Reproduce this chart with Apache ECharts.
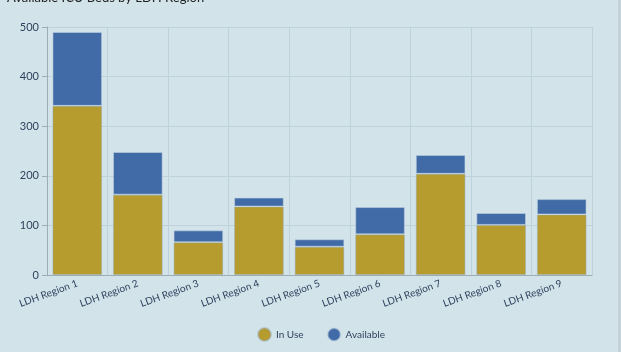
<!DOCTYPE html>
<html>
<head>
<meta charset="utf-8">
<script src="https://cdn.jsdelivr.net/npm/echarts@6/dist/echarts.min.js"></script>
<style>
  html, body { margin:0; padding:0; background:#d2e4ea; }
  #chart { width:621px; height:352px; }
  #edge { position:absolute; left:618px; top:0; width:3px; height:352px; background:#c3d2d8; }
</style>
</head>
<body>
<div id="chart"></div>
<div id="edge"></div>
<script>
// ICU beds per LDH region
var regions = ['LDH Region 1','LDH Region 2','LDH Region 3','LDH Region 4','LDH Region 5','LDH Region 6','LDH Region 7','LDH Region 8','LDH Region 9'];
var inUse = [341, 162, 66, 138, 57, 82, 204, 101, 122];
var available = [149, 86, 24, 18, 15, 55, 38, 24, 31];

var chart = echarts.init(document.getElementById('chart'));
chart.setOption({
  backgroundColor: '#d2e4ea',
  animation: false,
  textStyle: { fontFamily: 'Lato' },
  title: {
    text: 'Available ICU Beds by LDH Region',
    left: 2,
    top: -14,
    textStyle: { fontSize: 13, fontWeight: 'normal', color: '#222', fontFamily: 'Lato' }
  },
  legend: {
    bottom: 5,
    left: 252,
    icon: 'circle',
    itemWidth: 13,
    itemHeight: 13,
    itemGap: 23,
    textStyle: { fontSize: 10, color: '#2e3f5c' },
    data: ['In Use', 'Available']
  },
  grid: { left: 47, right: 29, top: 27, bottom: 77 },
  xAxis: {
    type: 'category',
    data: regions,
    axisLine: { lineStyle: { color: '#9eadb4' } },
    axisTick: { alignWithLabel: true, length: 4, lineStyle: { color: '#9eadb4' } },
    axisLabel: { rotate: 20, fontSize: 10, color: '#2e3f5c', margin: 8 },
    splitLine: { show: true, lineStyle: { color: '#bfd1d9' } }
  },
  yAxis: {
    type: 'value',
    min: 0,
    max: 500,
    interval: 100,
    axisLine: { show: true, lineStyle: { color: '#9eadb4' } },
    axisTick: { show: true, length: 5, lineStyle: { color: '#9eadb4' } },
    axisLabel: { fontSize: 11, color: '#2e3f5c', margin: 8 },
    splitLine: { lineStyle: { color: '#bfd1d9' } }
  },
  series: [{
    name: 'In Use',
    type: 'bar',
    stack: 'beds',
    barWidth: '82%',
    itemStyle: { color: '#b69b2e', borderColor: 'rgba(150,170,185,0.45)', borderWidth: 1 },
    data: inUse
  }, {
    name: 'Available',
    type: 'bar',
    stack: 'beds',
    itemStyle: { color: '#416ba6', borderColor: 'rgba(200,215,228,0.5)', borderWidth: 1 },
    data: available
  }]
});
</script>
</body>
</html>
